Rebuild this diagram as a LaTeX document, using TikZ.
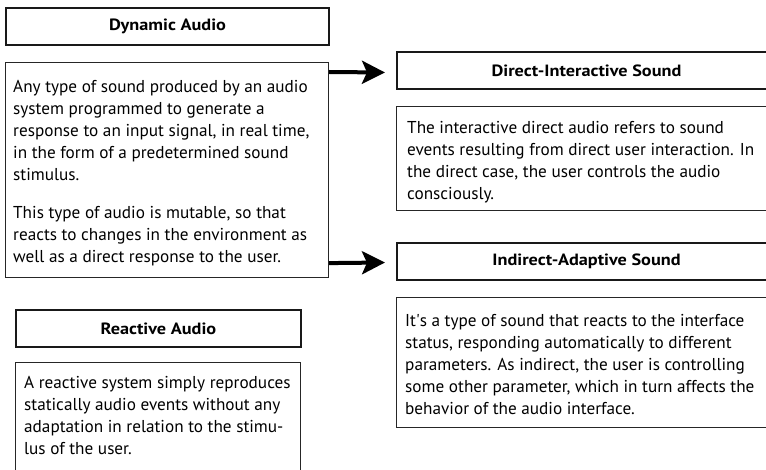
\documentclass[tikz,border=0pt]{standalone}
\usepackage{fontspec}
\setmainfont{PT Sans}
\newfontfamily\titlefont[FakeStretch=1.12]{PT Sans}
\usetikzlibrary{arrows.meta,calc}
\begin{document}
\begin{tikzpicture}[x=1pt,y=-1pt,
  titlebox/.style={draw=black!90,line width=2pt,minimum height=37pt,anchor=north west,inner sep=0pt,
    font=\titlefont\fontsize{16.3}{19}\selectfont\bfseries},
  textbox/.style={draw=black!85,line width=1.1pt,anchor=north west,inner sep=0pt},
  body/.style={anchor=north west,inner sep=0pt,align=left,
    font=\fontsize{17.2}{22}\selectfont},
  bigarrow/.style={line width=4pt,-{Stealth[length=23pt,width=23pt,inset=5pt]}}]
\clip (0,0) rectangle (766,470);
\fill[white] (0,0) rectangle (766,470);
% left column
\node[titlebox,minimum width=323pt] (dyntitle) at (5,7) {Dynamic Audio};
\node[textbox,minimum width=323pt,minimum height=215pt] (dynbox) at (5,62) {};
\node[body] (dyntext) at (13,80) {Any type of sound produced by an audio\\ system programmed to generate a\\ response to an input signal, in real time,\\ in the form of a predetermined sound\\ stimulus.\\[16pt] This type of audio is mutable, so that\\ reacts to changes in the environment as\\ well as a direct response to the user.};
\node[titlebox,minimum width=285pt] (reatitle) at (15,309) {Reactive Audio};
\node[textbox,minimum width=285pt,minimum height=140pt] (reabox) at (15,362) {};
\node[body] (reatext) at (24,376) {A reactive system simply reproduces\\ statically audio events without any\\ adaptation in relation to the stimu-\\ lus of the user.};
% right column
\node[titlebox,minimum width=379pt] (dirtitle) at (396,51) {Direct-Interactive Sound};
\node[textbox,minimum width=379pt,minimum height=104pt] (dirbox) at (396,106) {};
\node[body] (dirtext) at (407,121) {The interactive direct audio refers to sound\\ events resulting from direct user interaction. In\\ the direct case, the user controls the audio\\ consciously.};
\node[titlebox,minimum width=379pt] (indtitle) at (396,242) {Indirect-Adaptive Sound};
\node[textbox,minimum width=379pt,minimum height=130pt] (indbox) at (396,297) {};
\node[body] (indtext) at (405,314) {It\textquotesingle s a type of sound that reacts to the interface\\ status, responding automatically to different\\ parameters. As indirect, the user is controlling\\ some other parameter, which in turn affects the\\ behavior of the audio interface.};
% arrows
\draw[bigarrow] ($(dynbox.north east)+(0,10)$) -- ($(dirtitle.west)+(-11,2)$);
\draw[bigarrow] ($(dynbox.south east)+(0,-15)$) -- ($(indtitle.west)+(-11,1)$);
\end{tikzpicture}
\end{document}
